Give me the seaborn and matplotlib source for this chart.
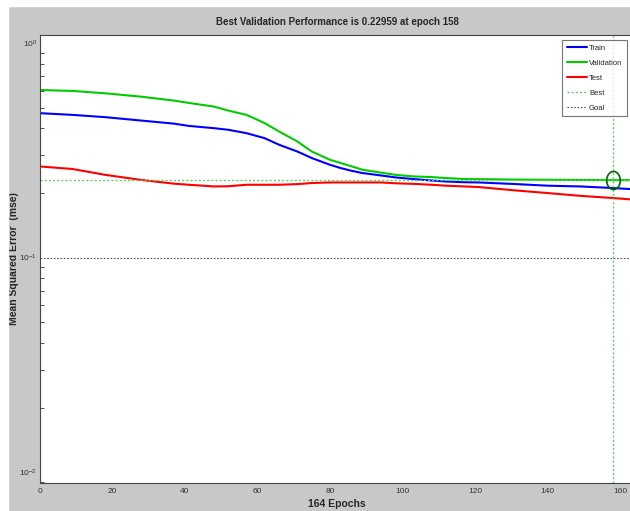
import numpy as np
import pandas as pd
import matplotlib
matplotlib.use("Agg")
import matplotlib.pyplot as plt
from matplotlib.path import Path
import seaborn as sns

# values (epoch -> mse)
epochs = [0, 9, 18, 28, 37, 41, 48, 52, 57, 62, 66, 71, 75, 80, 83, 86, 89,
          94, 98, 103, 108, 112, 117, 121, 131, 140, 149, 158, 164]
train_mse = [0.471, 0.4625, 0.4513, 0.435, 0.421, 0.411, 0.401, 0.394, 0.380,
             0.360, 0.3354, 0.3121, 0.2909, 0.2707, 0.2612, 0.2537, 0.2477,
             0.2415, 0.2365, 0.2323, 0.2287, 0.2262, 0.2245, 0.224, 0.2202,
             0.2163, 0.2146, 0.211, 0.208]
val_mse = [0.604, 0.598, 0.583, 0.562, 0.539, 0.526, 0.5055, 0.484, 0.4624,
           0.423, 0.3867, 0.3474, 0.3121, 0.2856, 0.2757, 0.266, 0.2566,
           0.249, 0.2431, 0.2389, 0.2373, 0.2348, 0.2323, 0.232, 0.231,
           0.2305, 0.230, 0.2296, 0.2296]
test_mse = [0.2659, 0.2587, 0.243, 0.230, 0.221, 0.2185, 0.2146, 0.215, 0.2185,
            0.2185, 0.2185, 0.220, 0.2226, 0.224, 0.224, 0.224, 0.224,
            0.224, 0.222, 0.2206, 0.2185, 0.2163, 0.2146, 0.2132, 0.2057,
            0.1999, 0.194, 0.1895, 0.1861]
best_epoch = 158
best_perf = 0.22959
goal = 0.1
n_epochs = 164
x_ticks = [0, 20, 40, 60, 80, 100, 120, 140, 160]

df = pd.DataFrame({
    "epoch": epochs * 3,
    "mse": train_mse + val_mse + test_mse,
    "set": ["Train"] * len(epochs) + ["Validation"] * len(epochs) + ["Test"] * len(epochs),
})

sns.set_style("white")
plt.rcParams["font.family"] = ["Liberation Sans Narrow", "Liberation Sans", "DejaVu Sans"]

grey = "#c8c8c8"
fig = plt.figure(figsize=(6.3, 5.11), dpi=100, facecolor=grey)
# white strips at top / left of the scanned figure
fig.patches.append(plt.Rectangle((0, 1 - 6 / 511), 1, 6 / 511, transform=fig.transFigure,
                                 color="white", zorder=0))
fig.patches.append(plt.Rectangle((0, 0), 8 / 630, 1, transform=fig.transFigure,
                                 color="white", zorder=0))

ax = fig.add_axes([40 / 630, 28 / 511, 594.5 / 630, 448 / 511])
ax.set_facecolor("white")

palette = {"Train": "#0000ff", "Validation": "#00cc00", "Test": "#ff0000"}
sns.lineplot(data=df, x="epoch", y="mse", hue="set", palette=palette,
             linewidth=1.5, ax=ax, legend=False)

dotted = (0, (1.5, 1.5))
ax.axvline(best_epoch, color="#66cc66", linestyle=dotted, linewidth=1)
ax.axhline(best_perf, color="#66cc66", linestyle=dotted, linewidth=1)
ax.axhline(goal, color="#555555", linestyle=dotted, linewidth=0.8)

# slightly tall ellipse, as in the (stretched) reference
t = np.linspace(0, 2 * np.pi, 60)
ellipse = Path(np.column_stack([0.75 * np.cos(t), np.sin(t)]), closed=True)
ax.plot([best_epoch], [best_perf], marker=ellipse, markersize=13, linestyle="none",
        markerfacecolor="none", markeredgecolor="#006400", markeredgewidth=1.2)

ax.set_yscale("log")
ax.set_ylim(0.0089, 1.09)
ax.set_xlim(0, n_epochs)
ax.set_xticks(x_ticks)
ax.set_xticklabels([str(x) for x in x_ticks])
ax.tick_params(axis="both", which="both", direction="in", labelsize=6, colors="#333333")
ax.tick_params(axis="both", which="major", length=5)
ax.tick_params(axis="y", which="major", pad=2)
ax.tick_params(axis="y", which="minor", length=3, left=True)
for s in ax.spines.values():
    s.set_color("#444444")
    s.set_linewidth(0.8)

ax.set_title("Best Validation Performance is 0.22959 at epoch 158",
             fontsize=7, fontweight="bold", pad=7)
ax.set_xlabel("164 Epochs", fontsize=7.5, fontweight="bold", labelpad=3)
ax.set_ylabel("Mean Squared Error  (mse)", fontsize=7.5, fontweight="bold")
ax.yaxis.set_label_coords(-21 / 594.5, 0.5)

handles = [
    plt.Line2D([], [], color="#0000ff", linewidth=1.5),
    plt.Line2D([], [], color="#00cc00", linewidth=1.5),
    plt.Line2D([], [], color="#ff0000", linewidth=1.5),
    plt.Line2D([], [], color="#66cc66", linestyle=dotted, linewidth=1),
    plt.Line2D([], [], color="#555555", linestyle=dotted, linewidth=0.8),
]
leg = ax.legend(handles, ["Train", "Validation", "Test", "Best", "Goal"],
                loc="upper right", bbox_to_anchor=(627 / 630, 1 - 40 / 511),
                bbox_transform=fig.transFigure, fontsize=5.5, frameon=True,
                fancybox=False, handlelength=2.6, handletextpad=0.3,
                borderpad=0.6, labelspacing=1.0, borderaxespad=0)
leg.get_frame().set_edgecolor("#555555")
leg.get_frame().set_linewidth(0.8)

fig.savefig("out.png", dpi=100, facecolor=grey)
